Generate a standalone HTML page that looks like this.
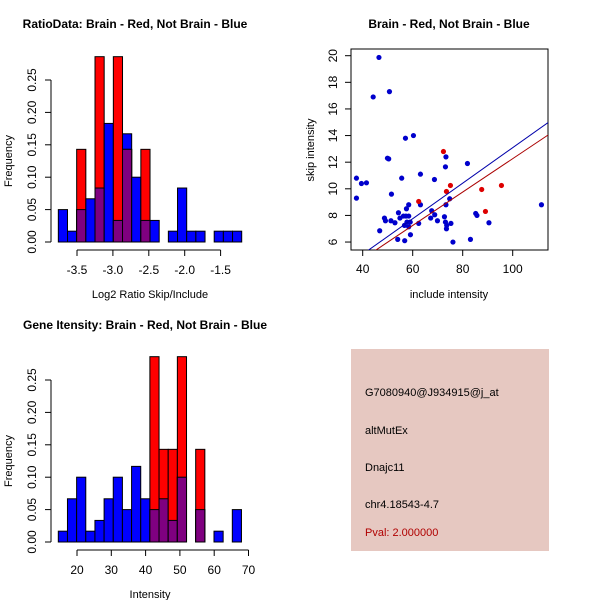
<!DOCTYPE html>
<html><head><meta charset="utf-8"><style>
body{margin:0;background:#fff}
svg{display:block;font-family:"Liberation Sans",sans-serif}
</style></head><body>
<svg id="c" width="600" height="600" viewBox="0 0 600 600">
<rect width="600" height="600" fill="#fff"/>
<text x="135" y="28" font-size="12" font-weight="bold" text-anchor="middle">RatioData: Brain - Red, Not Brain - Blue</text>
<text x="449" y="28" font-size="12" font-weight="bold" text-anchor="middle">Brain - Red, Not Brain - Blue</text>
<text x="145" y="329" font-size="12" font-weight="bold" text-anchor="middle">Gene Itensity: Brain - Red, Not Brain - Blue</text>
<g id="p1"></g>
<g id="p2"></g>
<g id="p3"></g>
<g>
<rect x="351" y="349" width="198" height="202" fill="#e6c8c1"/>
<g font-size="11">
<text x="365" y="396">G7080940@J934915@j_at</text>
<text x="365" y="434">altMutEx</text>
<text x="365" y="471">Dnajc11</text>
<text x="365" y="508">chr4.18543-4.7</text>
<text x="365" y="536" fill="#b00000">Pval: 2.000000</text>
</g></g>
</svg>
<script>
// Ratio histogram data
const ratioStart = -3.76, ratioWidth = 0.1277;
const ratioBlue = [0.05,0.0167,0.05,0.0667,0.0833,0.183,0.0333,0.167,0.1,0.0333,0.0333,0,0.0167,0.0833,0.0167,0.0167,0,0.0167,0.0167,0.0167];
const ratioRed  = [0,0,0.143,0,0.286,0,0.286,0.143,0,0.143,0,0,0,0,0,0,0,0,0,0];
const ratioXTicks = [-3.5,-3.0,-2.5,-2.0,-1.5];
// Intensity histogram data
const intStart = 14.55, intWidth = 2.67;
const intBlue = [0.0167,0.0667,0.1,0.0167,0.0333,0.0667,0.1,0.05,0.1167,0.0667,0.05,0.0667,0.0333,0.1,0,0.05,0,0.0167,0,0.05];
const intRed  = [0,0,0,0,0,0,0,0,0,0,0.286,0.143,0.143,0.286,0,0.143,0,0,0,0];
const intXTicks = [20,30,40,50,60,70];
const freqTicks = [0,0.05,0.10,0.15,0.20,0.25];
// Scatter data
const blueX = [46.5,44.2,50.7,37.5,39.5,41.5,37.5,49.9,50.4,57.1,60.3,55.6,63.1,68.7,73.3,73.1,81.9,51.5,74.8,73.3,111.5,58.4,63.1,57.5,54.3,48.7,49.1,51.3,52.9,54.9,56.3,57.3,58.4,57.7,59,56.7,58.4,62.4,67.6,67.2,68.8,69.9,72.7,73.1,73.6,73.5,75.3,85.2,85.7,90.5,46.8,54,56.8,59.1,76.1,83.1];
const blueY = [19.87,16.9,17.3,10.8,10.4,10.45,9.3,12.3,12.25,13.8,14.0,10.8,11.1,10.7,12.4,11.65,11.9,9.6,9.25,8.8,8.8,8.8,8.8,8.5,8.2,7.8,7.6,7.6,7.45,7.8,7.95,7.95,7.95,7.5,7.5,7.25,7.15,7.4,8.35,7.8,8.05,7.6,7.9,7.5,7.25,7.0,7.4,8.15,8.0,7.45,6.85,6.2,6.1,6.55,6.0,6.2];
const redX = [72.3,75.1,73.5,62.4,87.6,95.5,89.1];
const redY = [12.8,10.25,9.8,9.05,9.95,10.25,8.3];
const blueLine = [-0.25,0.1334];
const redLine = [-0.285,0.1255];
const scXTicks = [40,60,80,100];
const scYTicks = [6,8,10,12,14,16,18,20];

const NS="http://www.w3.org/2000/svg";
function mk(parent,tag,attrs,name){const e=document.createElementNS(NS,tag);for(const k in attrs)e.setAttribute(k,attrs[k]);


parent.appendChild(e);return e;}

function hist(g,start,width,blue,red,xTicks,x0px,pxPerUnit,baseY,xLabel,xLabelY){
  const sx=v=>x0px+(v-xTicks[0])*pxPerUnit;
  const sy=v=>baseY-v*648;
  for(let i=0;i<blue.length;i++){
    const a=sx(start+i*width), b=sx(start+(i+1)*width);
    const bv=blue[i], rv=red[i], m=Math.min(bv,rv);
    if(bv>0) mk(g,'rect',{x:a,y:sy(bv),width:b-a,height:sy(0)-sy(bv),fill:'#0000ff',stroke:'#000','stroke-width':1},'blue-bar');
    if(rv>0) mk(g,'rect',{x:a,y:sy(rv),width:b-a,height:sy(0)-sy(rv),fill:'#ff0000',stroke:'#000','stroke-width':1},'red-bar');
    if(m>0) mk(g,'rect',{x:a,y:sy(m),width:b-a,height:sy(0)-sy(m),fill:'#7f0080',stroke:'#000','stroke-width':1},'overlap-bar');
  }
  mk(g,'line',{x1:sx(xTicks[0]),x2:sx(xTicks[xTicks.length-1]),y1:baseY+8,y2:baseY+8,stroke:'#000'},'x-axis');
  xTicks.forEach(t=>{mk(g,'line',{x1:sx(t),x2:sx(t),y1:baseY+8,y2:baseY+14,stroke:'#000'},'x-tick');
    const tx=mk(g,'text',{x:sx(t),y:baseY+32,'font-size':12,'text-anchor':'middle'},'x-tick-label');tx.textContent=t.toFixed(xTicks[0]<0?1:0);});
  mk(g,'line',{x1:51,x2:51,y1:sy(0),y2:sy(0.25),stroke:'#000'},'y-axis');
  freqTicks.forEach(t=>{mk(g,'line',{x1:45,x2:51,y1:sy(t),y2:sy(t),stroke:'#000'},'y-tick');
    const tx=mk(g,'text',{x:0,y:0,'font-size':12,'text-anchor':'middle',transform:`translate(36,${sy(t)}) rotate(-90)`},'y-tick-label');tx.textContent=t.toFixed(2);});
  const yl=mk(g,'text',{x:0,y:0,'font-size':11,'text-anchor':'middle',transform:`translate(12,${sy(0.125)}) rotate(-90)`},'y-axis-title');yl.textContent='Frequency';
  const xl=mk(g,'text',{x:150,y:xLabelY,'font-size':11,'text-anchor':'middle'},'x-axis-title');xl.textContent=xLabel;
}
hist(document.getElementById('p1'),ratioStart,ratioWidth,ratioBlue,ratioRed,ratioXTicks,77,71.8,242,'Log2 Ratio Skip/Include',298);
hist(document.getElementById('p3'),intStart,intWidth,intBlue,intRed,intXTicks,77,3.43,542,'Intensity',598);

(function(){
  const g=document.getElementById('p2');
  const sx=v=>362.7+(v-40)*2.5, sy=v=>55.7+(20-v)*13.31;
  mk(g,'rect',{x:351,y:49,width:197,height:201,fill:'none',stroke:'#000'},'plot-frame');
  scXTicks.forEach(t=>{mk(g,'line',{x1:sx(t),x2:sx(t),y1:250,y2:256,stroke:'#000'},'x-tick');
    const tx=mk(g,'text',{x:sx(t),y:273,'font-size':12,'text-anchor':'middle'},'x-tick-label');tx.textContent=t;});
  scYTicks.forEach(t=>{mk(g,'line',{x1:345,x2:351,y1:sy(t),y2:sy(t),stroke:'#000'},'y-tick');
    const tx=mk(g,'text',{x:0,y:0,'font-size':12,'text-anchor':'middle',transform:`translate(337,${sy(t)}) rotate(-90)`},'y-tick-label');tx.textContent=t;});
  const xl=mk(g,'text',{x:449,y:298,'font-size':11,'text-anchor':'middle'},'x-axis-title');xl.textContent='include intensity';
  const yl=mk(g,'text',{x:0,y:0,'font-size':11,'text-anchor':'middle',transform:`translate(314,150) rotate(-90)`},'y-axis-title');yl.textContent='skip intensity';
  const clip=mk(g,'clipPath',{id:'sc'},'clip');mk(clip,'rect',{x:351,y:49,width:197,height:201},'clip-rect');
  const lg=mk(g,'g',{'clip-path':'url(#sc)'},'plot-area');
  blueX.forEach((x,i)=>mk(lg,'circle',{cx:sx(x),cy:sy(blueY[i]),r:2.6,fill:'#0000cc'},'blue-point'));
  redX.forEach((x,i)=>mk(lg,'circle',{cx:sx(x),cy:sy(redY[i]),r:2.6,fill:'#dd0000'},'red-point'));
  [[blueLine,'#0000aa','blue-fit-line'],[redLine,'#aa0000','red-fit-line']].forEach(([c,col,n])=>{
    mk(lg,'line',{x1:sx(30),y1:sy(c[0]+c[1]*30),x2:sx(120),y2:sy(c[0]+c[1]*120),stroke:col,'stroke-width':1},n);});
})();
</script>
</body></html>
